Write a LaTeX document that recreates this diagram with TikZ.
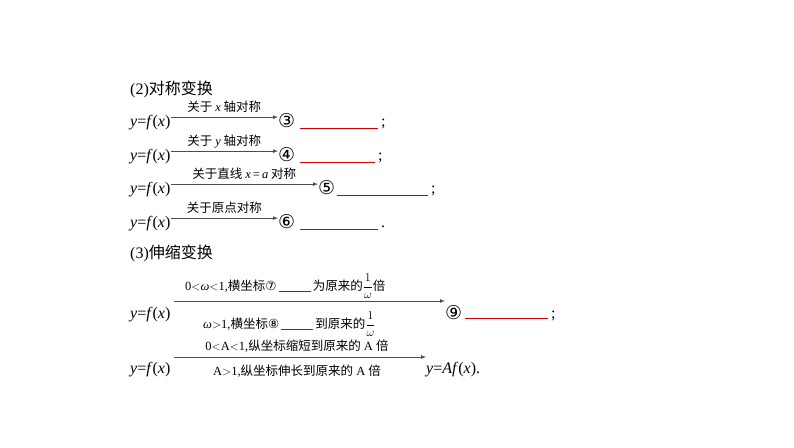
\documentclass[tikz,border=0pt]{standalone}
\usepackage{fontspec}
\usetikzlibrary{calc}
\setmainfont{Liberation Serif}
\newfontfamily\cjk{Noto Sans CJK SC}
\newfontfamily\djv{DejaVu Sans}
\newcommand{\rv}[1]{{\rmfamily\itshape #1}}
\newcommand{\redblank}[1]{{\color{red!80!black}\rule[-2pt]{#1}{0.8pt}}}
\begin{document}
\begin{tikzpicture}[x=1pt,y=-1pt,
  txt/.style={inner sep=0pt,anchor=base west,font=\fontsize{16}{18}\selectfont},
  lab/.style={inner sep=0pt,anchor=base,font=\fontsize{12.5}{14}\selectfont},
  arr/.style={draw=black!70,line width=0.7pt,-latex},
  blank/.style={draw=red!80!black,line width=0.8pt}]
\useasboundingbox (0,0) rectangle (794,447);
\node[txt] (h2) at (130,94) {(2){\cjk 对称变换}};
\foreach \i/\y/\e/\c/\ls/\le/\p/\t in {1/126/275/③/300/378/;/{关于 \rv{x} 轴对称},2/160/275/④/300/375/;/{关于 \rv{y} 轴对称},3/193/315/⑤/337/428/;/{关于直线 \rv{x}\,{\rmfamily =}\,\rv{a} 对称},4/227/275/⑥/300/378/./{关于原点对称}}{
  \node[txt] (f\i) at (130,\y) {\textit{y}=\textit{f}(\textit{x})};
  \node[txt,font=\fontsize{19}{20}\selectfont] (c\i) at (\e+3,\y+1) {\djv\c};
  \draw[arr] (f\i.east) ++(0,-5) coordinate (s\i) -- (c\i.west |- s\i);
  \node[lab] (l\i) at ($(s\i)!0.5!(c\i.west |- s\i)+(0,-6)$) {\cjk\t};
  \coordinate (b\i) at (\ls,\y+2);
  \coordinate (e\i) at (\le,\y+2);
  \draw[blank] (b\i) -- (e\i);
  \node[txt,anchor=base west] (p\i) at (\le+3,\y) {\p};
}
\node[txt] (h3) at (130,258) {(3){\cjk 伸缩变换}};
\node[txt] (f5) at (130,318) {\textit{y}=\textit{f}(\textit{x})};
\node[txt,font=\fontsize{19}{20}\selectfont] (c9) at (445,319) {\djv ⑨};
\coordinate (s5) at (174,301);
\draw[arr] (s5) -- (445,301);
\node[lab,anchor=base west] (l5a) at (185,290) {0$<$\rv{ω}$<$1,{\cjk 横坐标}{\djv ⑦}\,\redblank{32pt}\,{\cjk 为原来的}$\displaystyle\frac{1}{\omega}${\cjk 倍}};
\node[lab,anchor=base west] (l5b) at (203,328) {\rv{ω}$>$1,{\cjk 横坐标}{\djv ⑧}\,\redblank{32pt}\,{\cjk 到原来的}$\displaystyle\frac{1}{\omega}$};
\draw[blank] (465,318) -- (548,318);
\node[txt] (p9) at (551,318) {;};
\node[txt] (f6) at (130,373) {\textit{y}=\textit{f}(\textit{x})};
\node[txt] (r6) at (426,373) {\textit{y}=\textit{Af}(\textit{x}).};
\coordinate (s6) at (174,357);
\draw[arr] (s6) -- (r6.west |- s6);
\node[lab] (l6a) at (297,350) {0$<$A$<$1,{\cjk 纵坐标缩短到原来的} A {\cjk 倍}};
\node[lab] (l6b) at (297,375) {A$>$1,{\cjk 纵坐标伸长到原来的} A {\cjk 倍}};
\end{tikzpicture}
\end{document}
